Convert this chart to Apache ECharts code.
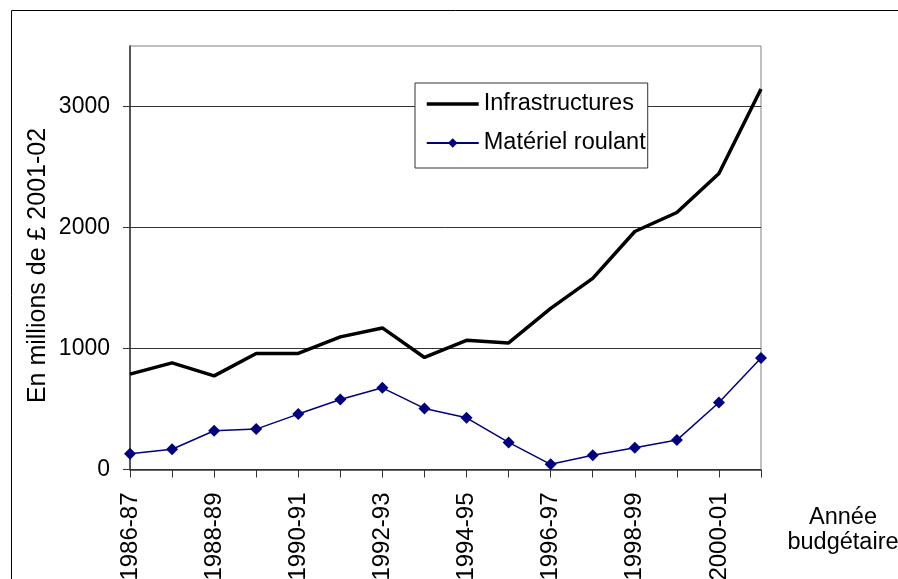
<!DOCTYPE html>
<html>
<head>
<meta charset="utf-8">
<script src="https://cdn.jsdelivr.net/npm/echarts@6/dist/echarts.min.js"></script>
<style>
html,body{margin:0;padding:0;background:#fff;}
#chart{width:898px;height:579px;}
</style>
</head>
<body>
<div id="chart"></div>
<script>
const categories = ['1986-87','1987-88','1988-89','1989-90','1990-91','1991-92','1992-93','1993-94','1994-95','1995-96','1996-97','1997-98','1998-99','1999-00','2000-01','2001-02'];
const infrastructures = [788, 881, 774, 959, 959, 1096, 1170, 926, 1068, 1046, 1332, 1580, 1967, 2124, 2446, 3145];
const materielRoulant = [130, 167, 320, 334, 458, 579, 675, 505, 427, 224, 43, 117, 180, 243, 554, 922];
const yTicks = [0, 1000, 2000, 3000];
const seriesNames = ['Infrastructures', 'Matériel roulant'];
const yTitle = 'En millions de £ 2001-02';
const xTitle = ['Année', 'budgétaire'];

const FONT = '"Liberation Sans", Arial, Helvetica, sans-serif';
const chart = echarts.init(document.getElementById('chart'));
chart.setOption({
  backgroundColor: '#ffffff',
  animation: false,
  textStyle: { fontFamily: FONT },
  grid: {
    left: 130, top: 46, right: 137, bottom: 109.5,
    containLabel: false,
    outerBoundsMode: 'none',
    show: true, borderColor: '#808080', borderWidth: 1, backgroundColor: 'transparent'
  },
  legend: {
    orient: 'vertical',
    left: 415, top: 83,
    padding: [9, 2, 13, 10],
    itemGap: 15,
    itemWidth: 52, itemHeight: 12,
    backgroundColor: '#ffffff',
    borderColor: '#333333', borderWidth: 1,
    textStyle: { fontFamily: FONT, fontSize: 23.5, color: '#000' },
    data: [
      { name: seriesNames[0], itemStyle: { opacity: 0 }, lineStyle: { width: 3.5, color: '#000' } },
      { name: seriesNames[1] }
    ]
  },
  xAxis: {
    type: 'category',
    data: categories,
    boundaryGap: false,
    axisLine: { lineStyle: { color: '#333', width: 1.5 } },
    axisTick: { show: true, interval: 0, length: 8, lineStyle: { color: '#333' } },
    axisLabel: { interval: 1, rotate: 90, margin: 23, fontSize: 24, color: '#000', fontFamily: FONT },
    splitLine: { show: false }
  },
  yAxis: {
    type: 'value',
    min: 0, max: 3500, interval: 1000,
    axisLine: { show: true, lineStyle: { color: '#333', width: 1.5 } },
    axisTick: { show: true, length: 7, lineStyle: { color: '#333' } },
    axisLabel: {
      margin: 20, fontSize: 23, color: '#000', fontFamily: FONT,
      showMaxLabel: false,
      formatter: function (v) { return yTicks.indexOf(v) >= 0 ? String(v) : ''; }
    },
    splitLine: { show: true, showMaxLine: false, lineStyle: { color: '#333', width: 1 } }
  },
  series: [
    {
      name: seriesNames[0],
      type: 'line',
      data: infrastructures,
      symbol: 'none',
      lineStyle: { color: '#000', width: 3.5 },
      itemStyle: { color: '#000' },
      z: 3
    },
    {
      name: seriesNames[1],
      type: 'line',
      data: materielRoulant,
      symbol: 'diamond',
      symbolSize: 12,
      showAllSymbol: true,
      lineStyle: { color: '#000080', width: 1.5 },
      itemStyle: { color: '#000080' },
      z: 4
    }
  ],
  graphic: [
    {
      type: 'rect', silent: true,
      shape: { x: 11.5, y: 10.5, width: 1000, height: 700 },
      style: { fill: 'none', stroke: '#000', lineWidth: 1 }
    },
    {
      type: 'text', x: 38.5, y: 265.5, rotation: Math.PI / 2, silent: true,
      style: { text: yTitle, fontSize: 25, fontFamily: FONT, fill: '#000', align: 'center', verticalAlign: 'middle' }
    },
    {
      type: 'text', x: 843, y: 518, silent: true,
      style: { text: xTitle[0], fontSize: 23.5, fontFamily: FONT, fill: '#000', align: 'center', verticalAlign: 'middle' }
    },
    {
      type: 'text', x: 843, y: 543, silent: true,
      style: { text: xTitle[1], fontSize: 23.5, fontFamily: FONT, fill: '#000', align: 'center', verticalAlign: 'middle' }
    }
  ]
});
</script>
</body>
</html>
